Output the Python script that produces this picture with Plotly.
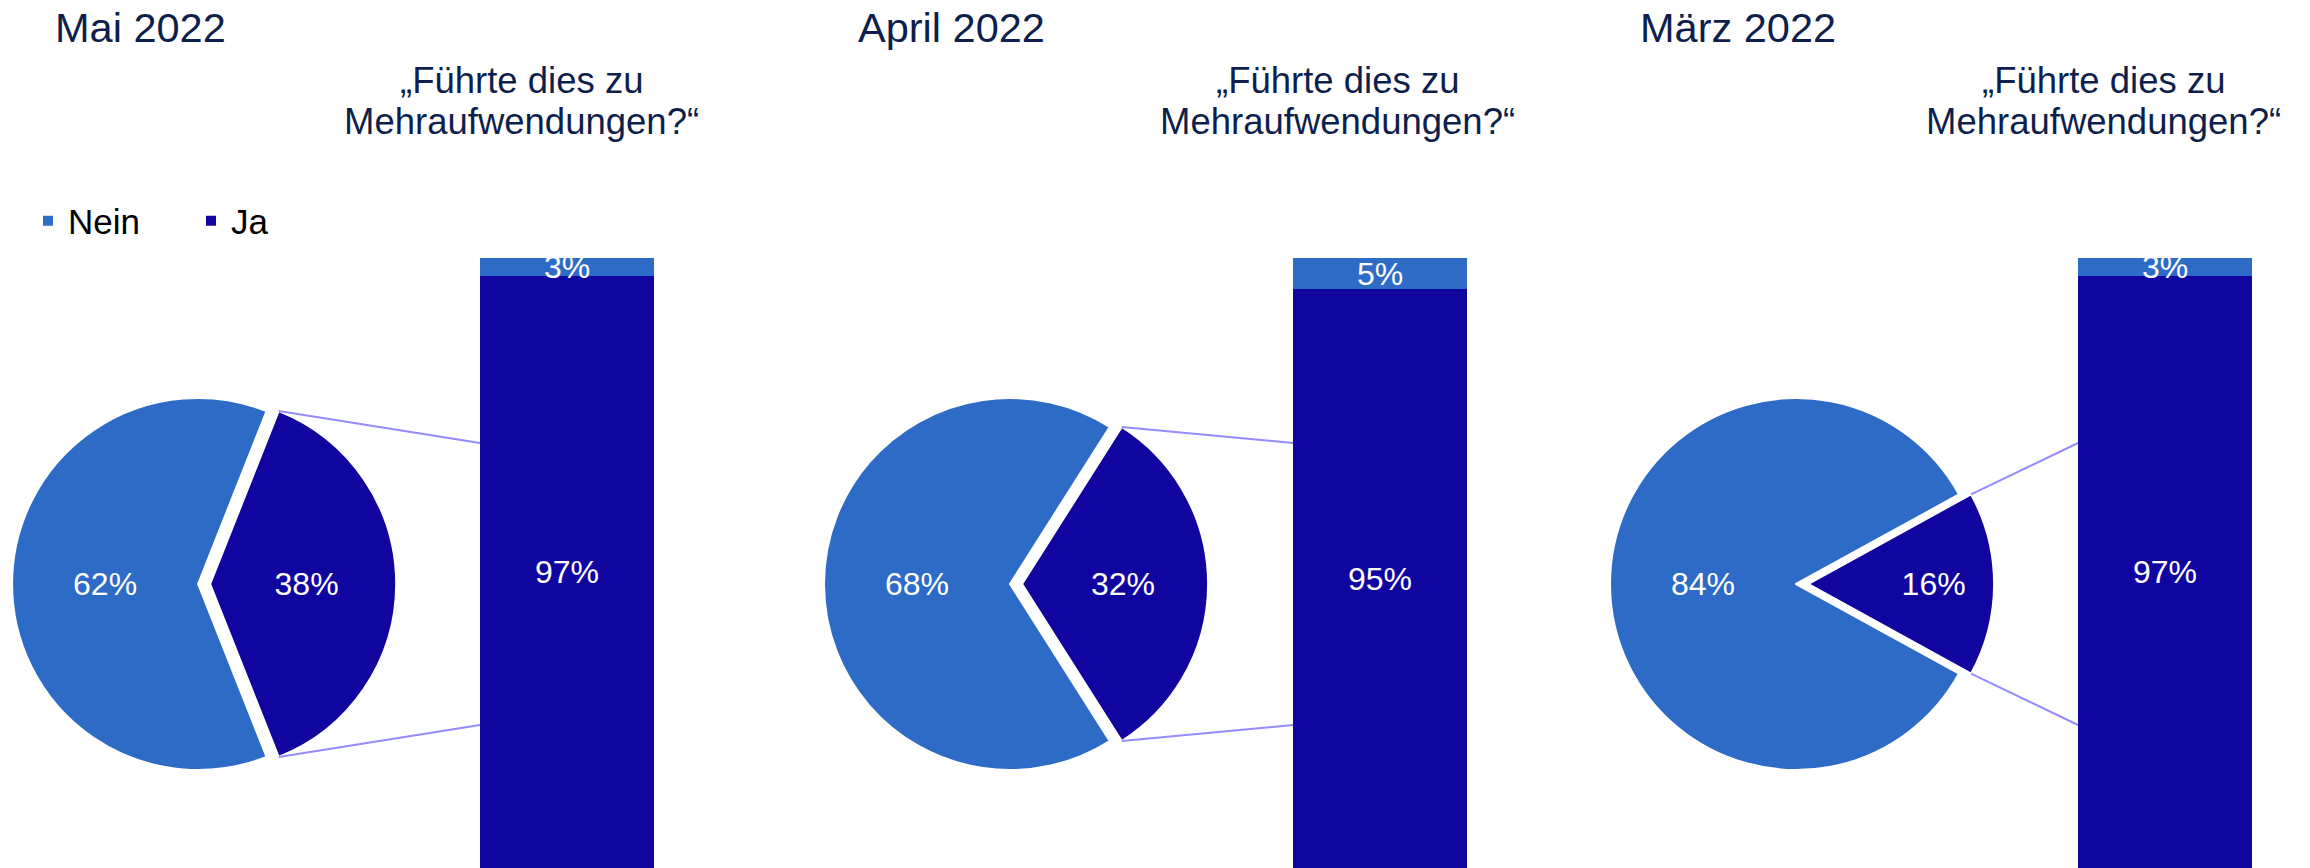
import math

import plotly.graph_objects as go

W, H = 2310, 868

COLORS = {
    "nein": "#2E6BC6",
    "ja": "#10069F",
    "navy": "#0E1F4D",
    "connector": "#958BFF",
    "white": "#FFFFFF",
    "black": "#000000",
}
FONT = "Liberation Sans, Arial, sans-serif"

# data
MONTHS = ["Mai 2022", "April 2022", "März 2022"]
QUESTION_LINES = ["„Führte dies zu", "Mehraufwendungen?“"]
PIE_LABELS = ["Nein", "Ja"]
PIE_NEIN = [62, 68, 84]
PIE_JA = [38, 32, 16]
BAR_NEIN = [3, 5, 3]
BAR_JA = [97, 95, 97]

# layout, in pixels of the 2310x868 page
PIE_CX = [197, 1010, 1796]
PIE_CY = 584
PIE_R = 186
PULL = 0.065
BAR_LEFT = [480, 1293, 2078]
BAR_W = 174
BAR_TOP = 258
TITLE_X = [53, 856, 1638]
TITLE_Y = 28
QUESTION_CX = [521, 1337, 2103]
QUESTION_Y = [80, 121]
LEGEND_X = [28, 840, 1625]
LEGEND_Y = 221
CONNECTOR_SPREAD = 141


def px_x(v: float) -> float:
    return v / W


def px_y(v: float) -> float:
    return 1 - v / H


def pie_geometry(cx: float) -> tuple[list[float], list[float], float]:
    half = PIE_R * (1 + PULL)
    x0 = max(cx - half, 0)
    x1 = x0 + 2 * half
    y_top = PIE_CY - half - 10
    y_bot = PIE_CY + half + 10
    return [px_x(x0), px_x(x1)], [px_y(y_bot), px_y(y_top)], (x0 + x1) / 2


fig = go.Figure()
shapes = []
annotations = []
layout_extra = {}

for i, month in enumerate(MONTHS):
    n = i + 1
    suffix = "" if n == 1 else str(n)
    legend_name = "legend" + suffix

    nein, ja = PIE_NEIN[i], PIE_JA[i]
    share = ja / (nein + ja)
    # counterclockwise: Nein first, Ja ends at the rotation angle -> centre Ja on 3 o'clock
    rotation = 90 + share * 180
    dom_x, dom_y, cx = pie_geometry(PIE_CX[i])

    fig.add_trace(
        go.Pie(
            labels=PIE_LABELS,
            values=[nein, ja],
            sort=False,
            direction="counterclockwise",
            rotation=rotation,
            pull=[0, PULL],
            marker={"colors": [COLORS["nein"], COLORS["ja"]], "line": {"color": COLORS["white"], "width": 2}},
            texttemplate="%{value}%",
            textposition="inside",
            insidetextorientation="horizontal",
            textfont={"size": 32, "color": COLORS["white"], "family": FONT},
            domain={"x": dom_x, "y": dom_y},
            legend=legend_name,
            hoverinfo="label+percent",
        )
    )

    # stacked bar: Ja at the bottom, Nein on top
    for value, color in ((BAR_JA[i], COLORS["ja"]), (BAR_NEIN[i], COLORS["nein"])):
        fig.add_trace(
            go.Bar(
                x=["q"],
                y=[value],
                text=[f"{value}%"],
                textposition="inside",
                insidetextanchor="middle",
                textangle=0,
                constraintext="none",
                textfont={"size": 32, "color": COLORS["white"], "family": FONT},
                marker={"color": color, "line": {"width": 0}},
                xaxis="x" + suffix,
                yaxis="y" + suffix,
                showlegend=False,
                hoverinfo="y",
            )
        )

    layout_extra["xaxis" + suffix] = {
        "domain": [px_x(BAR_LEFT[i]), px_x(BAR_LEFT[i] + BAR_W)],
        "range": [-0.5, 0.5],
        "visible": False,
        "fixedrange": True,
    }
    layout_extra["yaxis" + suffix] = {
        "domain": [0, px_y(BAR_TOP)],
        "range": [0, 100],
        "visible": False,
        "fixedrange": True,
        "anchor": "x" + suffix,
    }
    layout_extra[legend_name] = {
        "x": px_x(LEGEND_X[i]),
        "xanchor": "left",
        "y": px_y(LEGEND_Y),
        "yanchor": "middle",
        "orientation": "h",
        "traceorder": "normal",
        "entrywidth": 118,
        "font": {"size": 35, "color": COLORS["black"], "family": FONT},
        "bgcolor": "rgba(0,0,0,0)",
    }

    # connector lines from the pulled slice's arc ends to the bar
    pcx = cx + PULL * PIE_R
    half_angle = share * 180
    for angle, end_y in ((90 - half_angle, PIE_CY - CONNECTOR_SPREAD), (90 + half_angle, PIE_CY + CONNECTOR_SPREAD)):
        a = math.radians(angle)
        sx = pcx + PIE_R * math.sin(a)
        sy = PIE_CY - PIE_R * math.cos(a)
        shapes.append(
            {
                "type": "line",
                "xref": "paper",
                "yref": "paper",
                "x0": px_x(sx),
                "y0": px_y(sy),
                "x1": px_x(BAR_LEFT[i]),
                "y1": px_y(end_y),
                "line": {"color": COLORS["connector"], "width": 2},
            }
        )

    annotations.append(
        {
            "text": month,
            "x": px_x(TITLE_X[i]),
            "y": px_y(TITLE_Y),
            "xref": "paper",
            "yref": "paper",
            "xanchor": "left",
            "yanchor": "middle",
            "showarrow": False,
            "font": {"size": 41.5, "color": COLORS["navy"], "family": FONT},
        }
    )
    for line, y in zip(QUESTION_LINES, QUESTION_Y):
        annotations.append(
            {
                "text": line,
                "x": px_x(QUESTION_CX[i]),
                "y": px_y(y),
                "xref": "paper",
                "yref": "paper",
                "xanchor": "center",
                "yanchor": "middle",
                "showarrow": False,
                "font": {"size": 36.5, "color": COLORS["navy"], "family": FONT},
            }
        )

fig.update_layout(
    width=W,
    height=H,
    margin={"l": 0, "r": 0, "t": 0, "b": 0},
    paper_bgcolor="white",
    plot_bgcolor="white",
    barmode="stack",
    bargap=0,
    shapes=shapes,
    annotations=annotations,
    **layout_extra,
)

fig.write_html(
    "out.html",
    config={"displayModeBar": False},
    post_script="document.body.style.margin = '0';",
)
